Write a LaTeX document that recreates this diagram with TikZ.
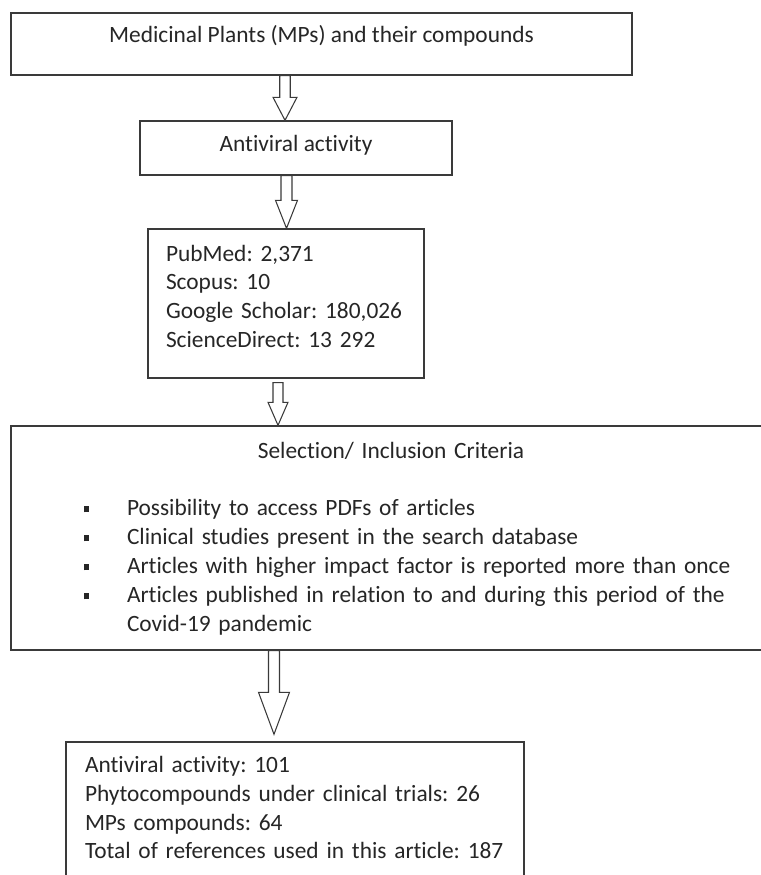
\documentclass[tikz,border=0pt]{standalone}
\usepackage{fontspec}
\setmainfont{Carlito}[Ligatures=NoCommon]
\usetikzlibrary{calc}
\definecolor{fcline}{HTML}{3A3A3A}
\definecolor{fctext}{HTML}{262626}

\newcommand{\sqbullet}{\raisebox{0.07cm}{\rule{0.11cm}{0.12cm}}}
% hollow block arrow: start, tip, half shaft, half head, head length
\newcommand{\blockarrow}[5]{%
  \draw[arrowline] let \p1=(#1), \p2=(#2) in
    (\x1-#3,\y1) -- (\x1-#3,\y2+#5) -- (\x1-#4,\y2+#5) -- (\x1,\y2)
    -- (\x1+#4,\y2+#5) -- (\x1+#3,\y2+#5) -- (\x1+#3,\y1) -- cycle;}

\begin{document}
\begin{tikzpicture}[
  every node/.style={font=\fontsize{13.3pt}{16.5pt}\selectfont\frenchspacing, text=fctext},
  flowbox/.style={rectangle, draw=fcline, line width=0.8pt, fill=white, inner ysep=0.1cm, text height=0.33cm},
  listbox/.style={flowbox, align=left, inner xsep=0.1cm},
  arrowline/.style={draw=fcline, line width=0.6pt, fill=white, line join=miter},
]
\useasboundingbox (0,0) rectangle (15.22,-17.5);
\clip (0,0) rectangle (15.22,-17.5);

% Boxes
\node[flowbox, minimum width=12.42cm, minimum height=1.24cm, text depth=0.37cm] (mp) at (6.43,-0.88) {Medicinal Plants (MPs) and their compounds};
\node[flowbox, minimum width=6.24cm, minimum height=1.08cm, text depth=0.17cm] (av) at (5.92,-2.96) {Antiviral activity};
\node[listbox, minimum width=5.52cm, minimum height=2.98cm, text width=5.32cm, text depth=2.03cm] (db) at (5.72,-6.07)
  {\leftskip=0.26cm PubMed: 2,371\\ Scopus: 10\\ Google Scholar: 180,026\\ ScienceDirect: 13 292\par};
\node[listbox, minimum width=15.2cm, minimum height=4.48cm, text width=15.0cm, text depth=3.53cm] (sel) at (7.82,-10.76)
  {\makebox[15.0cm]{Selection/ Inclusion Criteria}\\[16.5pt]
   \hspace*{1.35cm}\makebox[0.87cm][l]{\sqbullet}Possibility to access PDFs of articles\\
   \hspace*{1.35cm}\makebox[0.87cm][l]{\sqbullet}Clinical studies present in the search database\\
   \hspace*{1.35cm}\makebox[0.87cm][l]{\sqbullet}Articles with higher impact factor is reported more than once\\
   \hspace*{1.35cm}\makebox[0.87cm][l]{\sqbullet}Articles published in relation to and during this period of the\\
   \hspace*{2.22cm}Covid-19 pandemic};
\node[listbox, minimum width=9.16cm, minimum height=3.06cm, text width=8.96cm, text depth=2.19cm] (res) at (5.90,-16.37)
  {\leftskip=0.28cm Antiviral activity: 101\\ Phytocompounds under clinical trials: 26\\ MPs compounds: 64\\ Total of references used in this article: 187\par};

% Arrow columns
\coordinate (c1) at (5.70,0);
\coordinate (c2) at (5.73,0);
\coordinate (c3) at (5.56,0);
\coordinate (c4) at (5.48,0);

% Arrows
\blockarrow{mp.south -| c1}{av.north -| c1}{0.105cm}{0.24cm}{0.46cm}
\blockarrow{av.south -| c2}{db.north -| c2}{0.11cm}{0.22cm}{0.56cm}
\blockarrow{$(db.south -| c3)+(0,-0.08)$}{sel.north -| c3}{0.10cm}{0.20cm}{0.46cm}
\blockarrow{sel.south -| c4}{$(res.north -| c4)+(0,0.14)$}{0.11cm}{0.31cm}{0.84cm}

\end{tikzpicture}
\end{document}
